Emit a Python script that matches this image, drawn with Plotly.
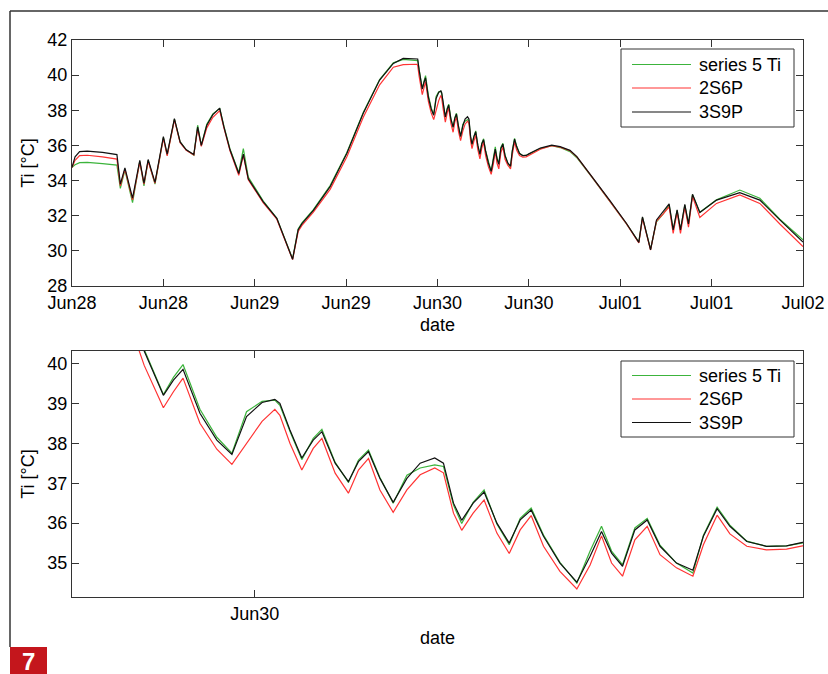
import pandas as pd
import plotly.graph_objects as go
from plotly.subplots import make_subplots

# ---- data (hours after 2013-06-28 00:00) ----
hours = [0.0, 0.4, 1.0, 2.0, 4.0, 5.9, 6.35, 6.95, 7.95, 8.9, 9.45, 10.0, 10.9, 12.0, 12.5, 13.45,
         14.2, 15.0, 16.0, 16.5, 16.98, 17.7, 18.5, 19.4, 19.95, 20.75, 21.9, 22.5, 23.15, 25.1,
         26.9, 28.97, 29.7, 30.2, 31.7, 33.9, 36.1, 38.25, 40.4, 42.2, 43.5, 45.3,
         45.40, 45.58, 46.0, 46.22, 46.43, 46.80, 47.17, 47.50, 47.82, 48.16, 48.44, 48.55, 48.77,
         49.03, 49.28, 49.47, 49.76, 50.05, 50.27, 50.49, 50.74, 51.03, 51.33, 51.62, 51.94,
         52.13, 52.35, 52.53, 52.78, 53.02, 53.30, 53.57, 53.81, 54.05, 54.32, 54.68, 55.05,
         55.34, 55.59, 55.81, 56.05, 56.32, 56.59, 56.87, 57.23, 57.59, 57.82, 58.12, 58.40,
         58.77, 59.20, 59.64, 59.99,
         61.5, 63.0, 64.1, 65.4, 66.3, 68.3, 70.6, 72.8, 74.44, 74.92, 75.98, 76.76, 77.64,
         78.42, 78.95, 79.47, 79.91, 80.48, 80.96, 81.49, 82.45, 84.64, 87.7, 90.33, 92.96, 96.0]

ti_3s9p = [34.75, 35.35, 35.65, 35.68, 35.6, 35.48, 33.8, 34.72, 33.0, 35.15, 33.85, 35.2, 33.9, 36.5, 35.5, 37.52,
           36.2, 35.75, 35.48, 37.05, 36.0, 37.15, 37.75, 38.12, 37.05, 35.75, 34.4, 35.5, 34.1, 32.8,
           31.85, 29.52, 31.2, 31.55, 32.3, 33.65, 35.55, 37.83, 39.72, 40.67, 40.95, 40.95,
           40.92, 40.31, 39.2, 39.58, 39.85, 38.75, 38.08, 37.72, 38.67, 39.02, 39.1, 39.0, 38.33,
           37.63, 38.08, 38.29, 37.5, 37.04, 37.54, 37.79, 37.12, 36.52, 37.12, 37.5, 37.63,
           37.5, 36.5, 36.07, 36.5, 36.78, 36.0, 35.5, 36.08, 36.33, 35.67, 35.0, 34.52,
           35.17, 35.79, 35.25, 34.92, 35.83, 36.08, 35.42, 35.0, 34.82, 35.67, 36.36, 35.92,
           35.54, 35.42, 35.43, 35.52,
           35.85, 36.02, 35.93, 35.72, 35.36, 34.22, 32.89, 31.57, 30.48, 31.94, 30.05, 31.76, 32.23,
           32.67, 31.19, 32.33, 31.19, 32.65, 31.53, 33.22, 32.18, 32.89, 33.31, 32.89, 31.76, 30.5]

ti_2s6p = [34.75, 35.15, 35.42, 35.44, 35.35, 35.22, 33.7, 34.65, 32.9, 35.05, 33.8, 35.1, 33.85, 36.4, 35.4, 37.45,
           36.15, 35.72, 35.45, 36.95, 35.95, 37.0, 37.6, 37.98, 37.0, 35.7, 34.3, 35.45, 34.05, 32.75,
           31.8, 29.5, 31.1, 31.45, 32.2, 33.5, 35.35, 37.6, 39.45, 40.45, 40.6, 40.62,
           40.55, 39.95, 38.89, 39.29, 39.63, 38.5, 37.85, 37.47, 38.0, 38.55, 38.85, 38.7, 38.0,
           37.33, 37.87, 38.12, 37.25, 36.75, 37.33, 37.62, 36.83, 36.27, 36.83, 37.21, 37.38,
           37.26, 36.25, 35.82, 36.25, 36.58, 35.75, 35.24, 35.83, 36.19, 35.42, 34.79, 34.35,
           34.95, 35.68, 35.0, 34.67, 35.58, 35.92, 35.21, 34.88, 34.67, 35.46, 36.2, 35.73,
           35.42, 35.33, 35.35, 35.43,
           35.78, 35.98, 35.9, 35.7, 35.35, 34.2, 32.88, 31.55, 30.45, 31.85, 30.05, 31.7, 32.1,
           32.51, 31.0, 32.2, 31.0, 32.5, 31.35, 33.1, 31.9, 32.7, 33.18, 32.7, 31.53, 30.24]

ti_series5 = [34.75, 34.9, 35.02, 35.03, 34.97, 34.88, 33.55, 34.6, 32.75, 35.1, 33.7, 35.15, 33.8, 36.45, 35.45, 37.5,
              36.2, 35.75, 35.45, 37.15, 36.0, 37.2, 37.8, 38.1, 37.1, 35.8, 34.45, 35.82, 34.2, 32.85,
              31.85, 29.55, 31.25, 31.6, 32.35, 33.72, 35.6, 37.88, 39.75, 40.7, 40.9, 40.85,
              40.83, 40.35, 39.22, 39.65, 39.97, 38.85, 38.15, 37.75, 38.79, 39.05, 39.08, 38.95, 38.3,
              37.59, 38.12, 38.35, 37.52, 37.02, 37.58, 37.83, 37.14, 36.5, 37.2, 37.38, 37.46,
              37.42, 36.45, 35.99, 36.52, 36.83, 35.98, 35.46, 36.12, 36.38, 35.7, 35.02, 34.5,
              35.3, 35.92, 35.3, 34.96, 35.88, 36.12, 35.45, 35.0, 34.75, 35.7, 36.4, 35.95,
              35.55, 35.42, 35.43, 35.5,
              35.82, 35.98, 35.88, 35.65, 35.3, 34.18, 32.87, 31.55, 30.5, 31.9, 30.1, 31.65, 32.1,
              32.6, 31.2, 32.3, 31.2, 32.6, 31.55, 33.2, 32.2, 32.9, 33.46, 32.99, 31.8, 30.63]

series_names = ["series 5 Ti", "2S6P", "3S9P"]
series_colors = ["#3cb43c", "#ff3333", "#111111"]

base = pd.Timestamp("2013-06-28 00:00")
times = base + pd.to_timedelta(hours, unit="h")

W, H = 828, 674
def px(x):
    return x / W
def py(y):
    return 1 - y / H

fig = make_subplots(rows=2, cols=1)
series_vals = [ti_series5, ti_2s6p, ti_3s9p]
for row in (1, 2):
    for name, vals, col in zip(series_names, series_vals, series_colors):
        fig.add_trace(go.Scatter(x=times, y=vals, mode="lines", name=name,
                                 line=dict(color=col, width=1.2), showlegend=False,
                                 hoverinfo="skip"), row=row, col=1)

font = dict(family="Liberation Sans, Arial, sans-serif", size=18, color="black")
axis_common = dict(showline=True, mirror="ticks", ticks="inside", ticklen=7,
                   linecolor="#333333", tickcolor="#333333", linewidth=1,
                   showgrid=False, zeroline=False, tickfont=font, automargin=False)

fig.update_layout(
    width=W, height=H, margin=dict(l=0, r=0, t=0, b=0, autoexpand=False),
    paper_bgcolor="white", plot_bgcolor="white", font=font,
    xaxis=dict(domain=[px(72), px(803)], type="date",
               range=["2013-06-28 00:00", "2013-07-02 00:00"],
               tick0="2013-06-28 00:00", dtick=12 * 3600 * 1000, tickformat="%b%d",
               title=dict(text="date", font=font, standoff=6), **axis_common),
    yaxis=dict(domain=[py(286), py(40)], range=[28, 42], dtick=2,
               title=dict(text="Ti [°C]", font=font, standoff=8), **axis_common),
    xaxis2=dict(domain=[px(72), px(803)], type="date",
                range=["2013-06-29 20:00", "2013-06-30 12:00"],
                tickvals=["2013-06-30 00:00"], tickformat="%b%d",
                title=dict(text="date", font=font, standoff=8), **axis_common),
    yaxis2=dict(domain=[py(597), py(351)], range=[34.15, 40.31], dtick=1,
                title=dict(text="Ti [°C]", font=font, standoff=8), **axis_common),
)

shapes = []
annotations = []
# outer frame
shapes.append(dict(type="line", xref="paper", yref="paper", x0=px(10), x1=1.0, y0=py(11), y1=py(11),
                   line=dict(color="#333333", width=1.5)))
shapes.append(dict(type="line", xref="paper", yref="paper", x0=px(10), x1=px(10), y0=py(11), y1=py(647),
                   line=dict(color="#333333", width=1.5)))
# figure number badge
shapes.append(dict(type="rect", xref="paper", yref="paper", x0=px(10), x1=px(47), y0=py(674), y1=py(647),
                   fillcolor="#c4161c", line=dict(width=0)))
annotations.append(dict(text="<b>7</b>", xref="paper", yref="paper", x=px(28.5), y=py(661),
                        showarrow=False, xanchor="center", yanchor="middle",
                        font=dict(family="Liberation Sans, Arial, sans-serif", size=24, color="white")))

# legends (one per panel)
for box_top, box_bot, rows_y in [(49, 127, (64.5, 88, 112)), (361, 437, (375.5, 399, 422.5))]:
    shapes.append(dict(type="rect", xref="paper", yref="paper", x0=px(621), x1=px(794),
                       y0=py(box_bot), y1=py(box_top), fillcolor="white",
                       line=dict(color="#333333", width=1)))
    for name, col, ry in zip(series_names, series_colors, rows_y):
        shapes.append(dict(type="line", xref="paper", yref="paper", x0=px(632), x1=px(691),
                           y0=py(ry), y1=py(ry), line=dict(color=col, width=1.2)))
        annotations.append(dict(text=name, xref="paper", yref="paper", x=px(697), y=py(ry),
                                showarrow=False, xanchor="left", yanchor="middle", font=font))

fig.update_layout(shapes=shapes, annotations=annotations)
fig.write_html("out.html", config={"displayModeBar": False},
               post_script="document.body.style.margin='0';document.body.style.overflow='hidden';")
